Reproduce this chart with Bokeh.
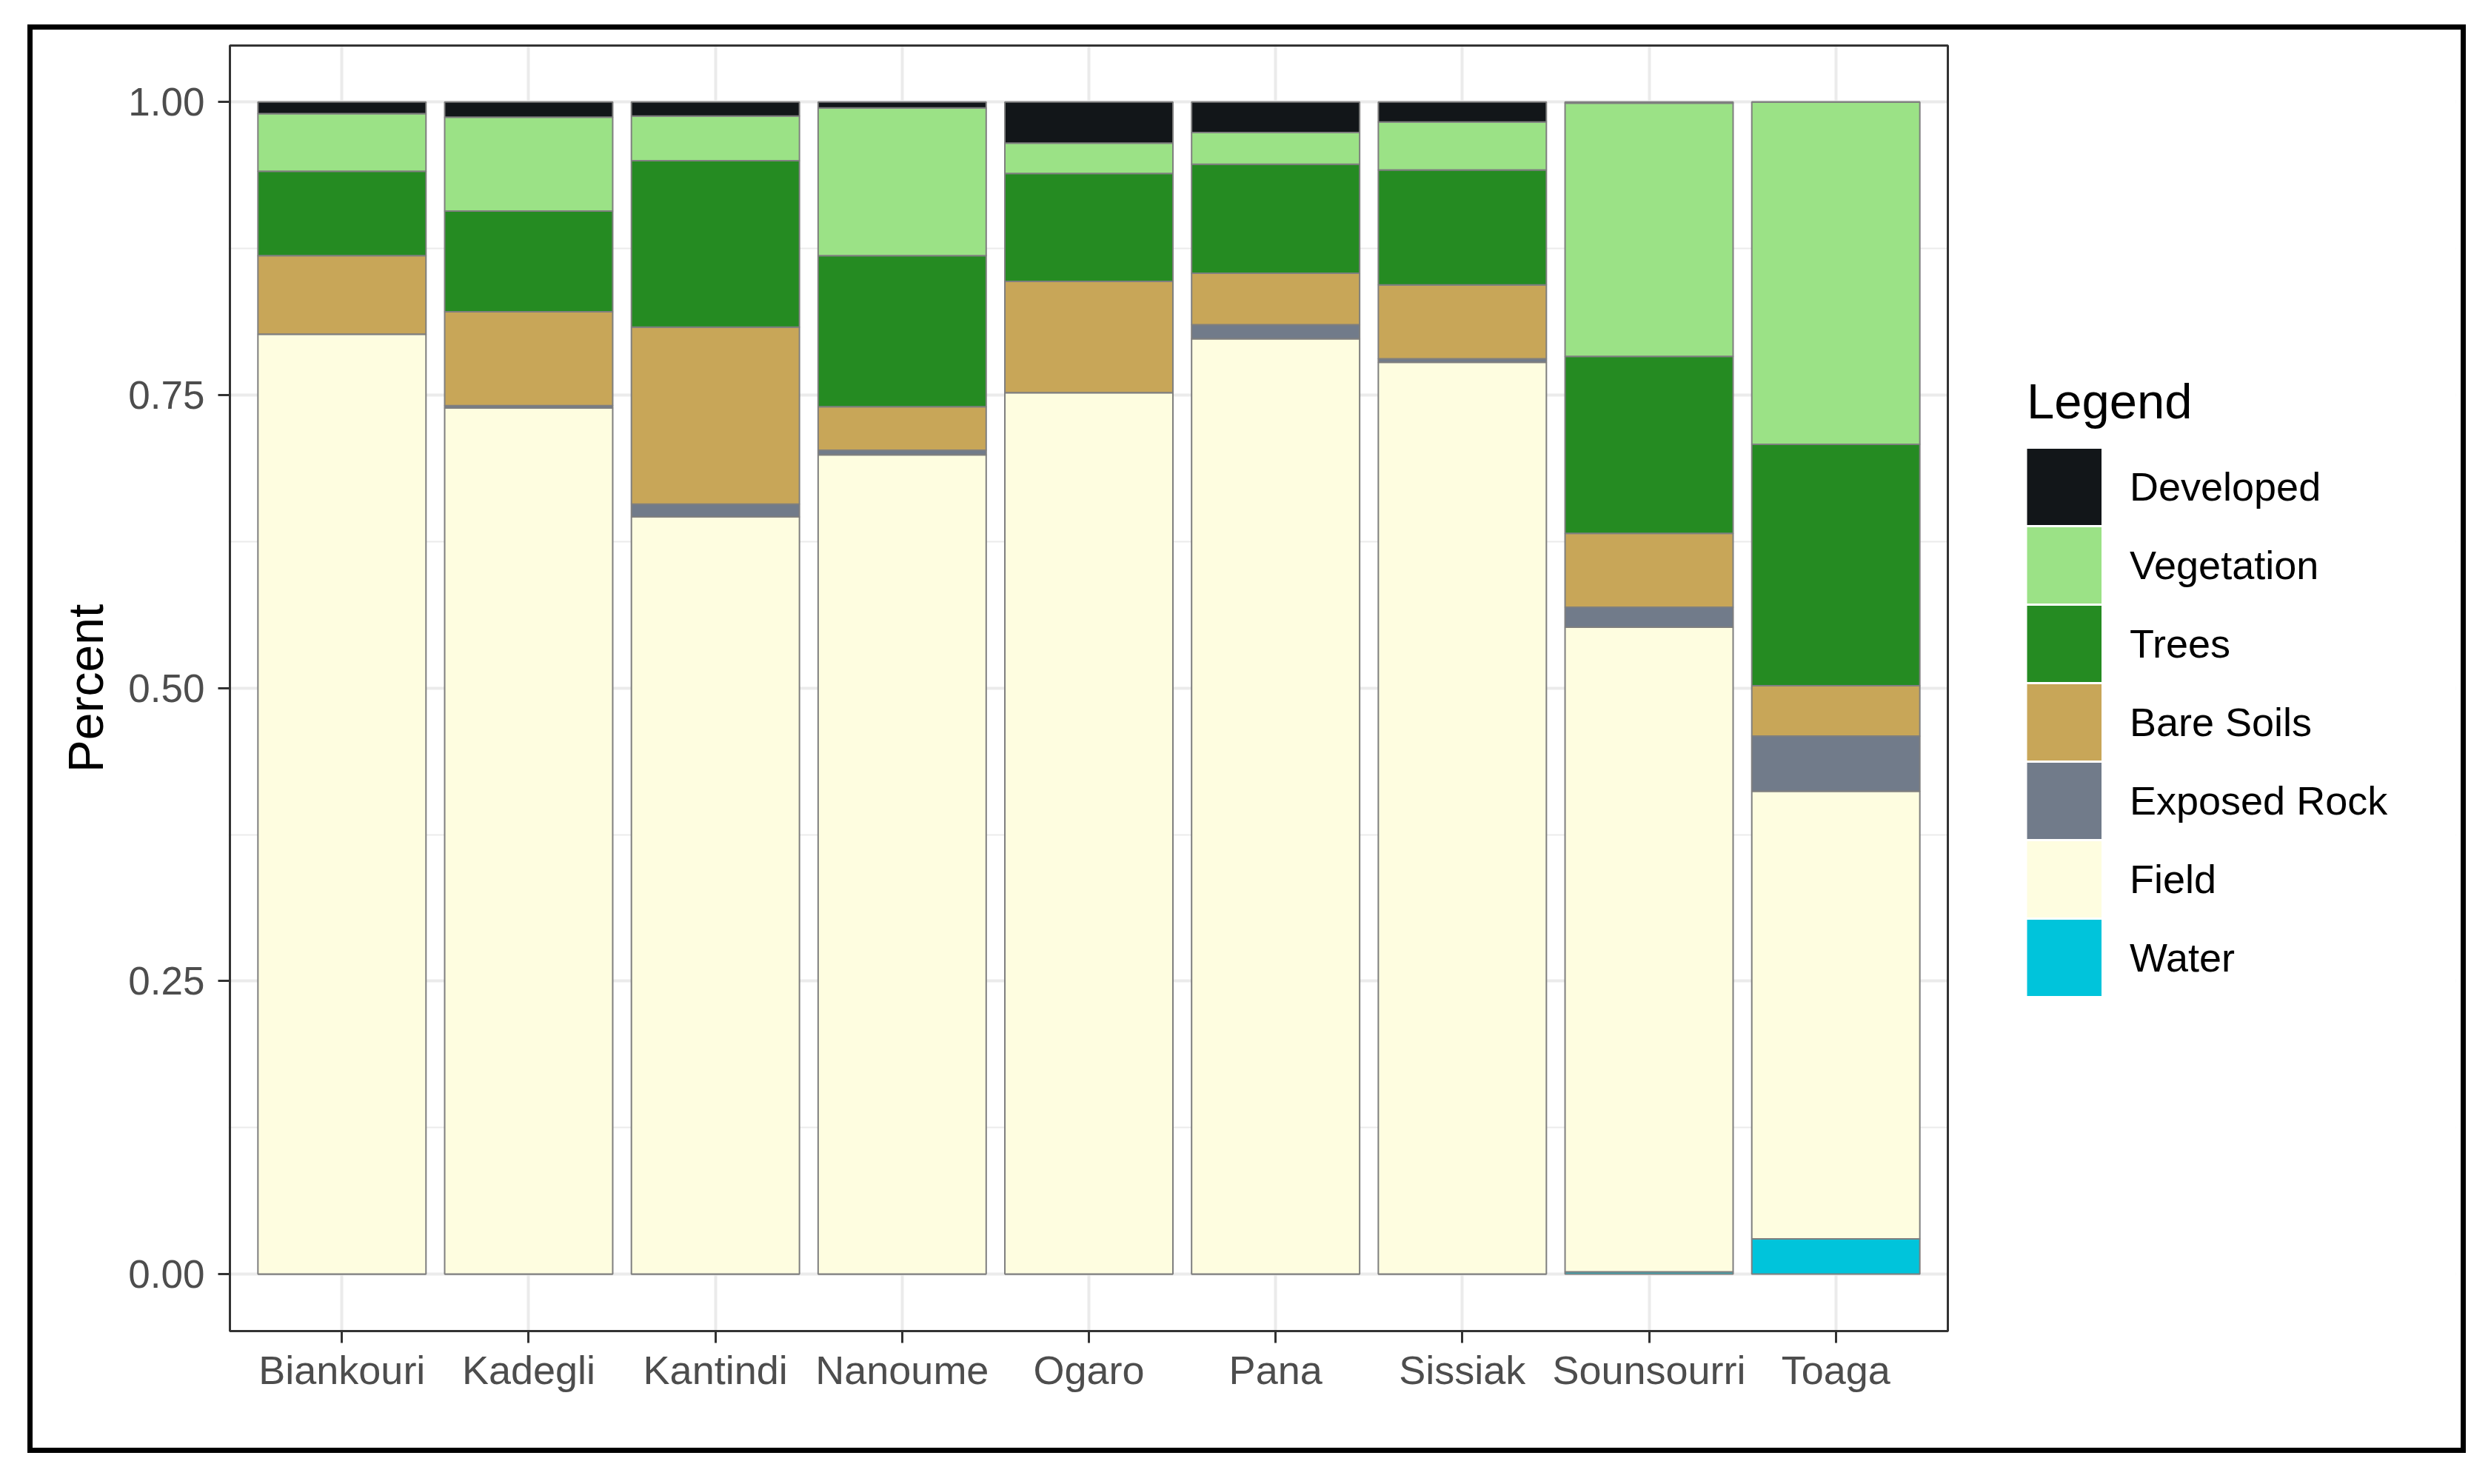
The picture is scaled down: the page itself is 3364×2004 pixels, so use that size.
from bokeh.plotting import figure
from bokeh.models import (ColumnDataSource, Range1d, FixedTicker, PrintfTickFormatter,
                          Legend, LegendItem, BoxAnnotation)
from bokeh.embed import file_html
from bokeh.resources import INLINE

# ---- data ----
sites = ["Biankouri", "Kadegli", "Kantindi", "Nanoume", "Ogaro", "Pana",
         "Sissiak", "Sounsourri", "Toaga"]
water        = [0.000, 0.000, 0.000, 0.000, 0.000, 0.000, 0.000, 0.002, 0.030]
field        = [0.802, 0.739, 0.646, 0.699, 0.752, 0.798, 0.778, 0.550, 0.382]
exposed_rock = [0.000, 0.002, 0.011, 0.004, 0.000, 0.012, 0.003, 0.017, 0.047]
bare_soils   = [0.067, 0.080, 0.151, 0.037, 0.095, 0.044, 0.063, 0.063, 0.043]
trees        = [0.072, 0.086, 0.142, 0.129, 0.092, 0.093, 0.098, 0.151, 0.206]
vegetation   = [0.049, 0.080, 0.038, 0.126, 0.026, 0.027, 0.041, 0.216, 0.292]
developed    = [0.010, 0.013, 0.012, 0.005, 0.035, 0.026, 0.017, 0.001, 0.000]

classes = ["Water", "Field", "Exposed Rock", "Bare Soils", "Trees", "Vegetation", "Developed"]
colors = ["#00C4DB", "#FEFDE0", "#717B8A", "#C8A658", "#258B22", "#9BE286", "#121619"]
y_ticks = [0.0, 0.25, 0.5, 0.75, 1.0]
y_minor = [0.125, 0.375, 0.625, 0.875]

xs = list(range(1, len(sites) + 1))
source = ColumnDataSource(data={
    "x": xs, "site": sites,
    "Water": water, "Field": field, "Exposed Rock": exposed_rock,
    "Bare Soils": bare_soils, "Trees": trees, "Vegetation": vegetation,
    "Developed": developed,
})

FONT = "Liberation Sans"

# ---- layout constants (pixels on the page) ----
W, H = 3279, 1915              # host content size inside the black frame
BW = 7                         # black frame width
CW, CH = W + 2 * BW, H + 2 * BW  # canvas size bokeh actually lays out
OX, OY = 44, 40                # canvas origin on page
PANEL_L, PANEL_R = 310, 2630   # ggplot panel box
PANEL_T, PANEL_B = 61, 1797
X0, X1 = 0.4, 9.6              # panel data extents
Y0, Y1 = -0.0486, 1.0482
E = 2                          # frame extends a little beyond the panel box
FR = 3316                      # frame right edge (covers legend area)
ux = (PANEL_R - PANEL_L) / (X1 - X0)
uy = (PANEL_B - PANEL_T) / (Y1 - Y0)

p = figure(output_backend="svg", toolbar_location=None,
           width=W, height=H,
           min_border_left=PANEL_L - E - OX, min_border_right=OX + CW - FR,
           min_border_top=PANEL_T - E - OY, min_border_bottom=OY + CH - (PANEL_B + E),
           x_range=Range1d(X0 - E / ux, X1 + (FR - PANEL_R) / ux),
           y_range=Range1d(Y0 - E / uy, Y1 + E / uy),
           background_fill_color="white", border_fill_color="white",
           styles={"border": f"{BW}px solid black", "margin-left": "37px",
                   "margin-top": "33px", "box-sizing": "content-box",
                   "width": f"{W}px", "height": f"{H}px"})
p.outline_line_color = None

# white cover so horizontal grid lines stop at the panel's right edge
p.add_layout(BoxAnnotation(left=X1, fill_color="white", fill_alpha=1.0,
                           line_color=None, level="glyph"))

p.vbar_stack(classes, x="x", width=0.9, source=source,
             fill_color=colors, line_color="#7F7F7F", line_width=2)

# panel border
p.add_layout(BoxAnnotation(left=X0, right=X1, bottom=Y0, top=Y1,
                           fill_color=None, fill_alpha=0,
                           line_color="#333333", line_alpha=1.0, line_width=3))

# legend key proxies (no visible marks): thick butt-capped lines give
# full, borderless swatches in the legend
nan = float("nan")
legend_items = []
for cls, col in reversed(list(zip(classes, colors))):
    r = p.line(x=[nan], y=[nan], line_color=col, line_width=103, line_cap="butt")
    legend_items.append(LegendItem(label=cls, renderers=[r]))

LEG_X = 2737 - (PANEL_L - E)       # glyph left, from frame left
LEG_Y = (PANEL_B + E) - 1346       # legend bottom, from frame bottom
legend = Legend(items=legend_items, location=(LEG_X, LEG_Y), title="Legend",
                title_text_font=FONT, title_text_font_size="67px",
                title_text_color="black", title_text_font_style="normal",
                title_standoff=24,
                label_text_font=FONT, label_text_font_size="54px",
                label_text_color="black",
                glyph_width=101, glyph_height=106, spacing=0,
                label_standoff=38, padding=0, margin=0,
                border_line_color=None, background_fill_alpha=0)
p.add_layout(legend)

# axes
xt = FixedTicker(ticks=xs)
p.xaxis.ticker = xt
p.xgrid.ticker = xt
p.xaxis.major_label_overrides = {x: s for x, s in zip(xs, sites)}
yt = FixedTicker(ticks=y_ticks, minor_ticks=y_minor)
p.yaxis.ticker = yt
p.ygrid.ticker = yt
p.yaxis.formatter = PrintfTickFormatter(format="%.2f")

for ax in (p.xaxis, p.yaxis):
    ax.axis_line_color = None
    ax.major_tick_in = E
    ax.major_tick_out = 16 - E
    ax.major_tick_line_color = "#333333"
    ax.major_tick_line_width = 3
    ax.minor_tick_line_color = None
    ax.major_label_text_font = FONT
    ax.major_label_text_color = "#4D4D4D"
p.xaxis.major_label_text_font_size = "54px"
p.yaxis.major_label_text_font_size = "53px"
p.xaxis.major_label_standoff = 6
p.yaxis.major_label_standoff = 18
p.yaxis.axis_label = "Percent"
p.yaxis.axis_label_text_font = FONT
p.yaxis.axis_label_text_font_size = "66px"
p.yaxis.axis_label_text_font_style = "normal"
p.yaxis.axis_label_text_color = "black"
p.yaxis.axis_label_standoff = 17

p.xgrid.grid_line_color = "#EBEBEB"
p.xgrid.grid_line_width = 4
p.ygrid.grid_line_color = "#EBEBEB"
p.ygrid.grid_line_width = 4
p.ygrid.minor_grid_line_color = "#EBEBEB"
p.ygrid.minor_grid_line_width = 2

open("out.html", "w").write(file_html(p, INLINE))
